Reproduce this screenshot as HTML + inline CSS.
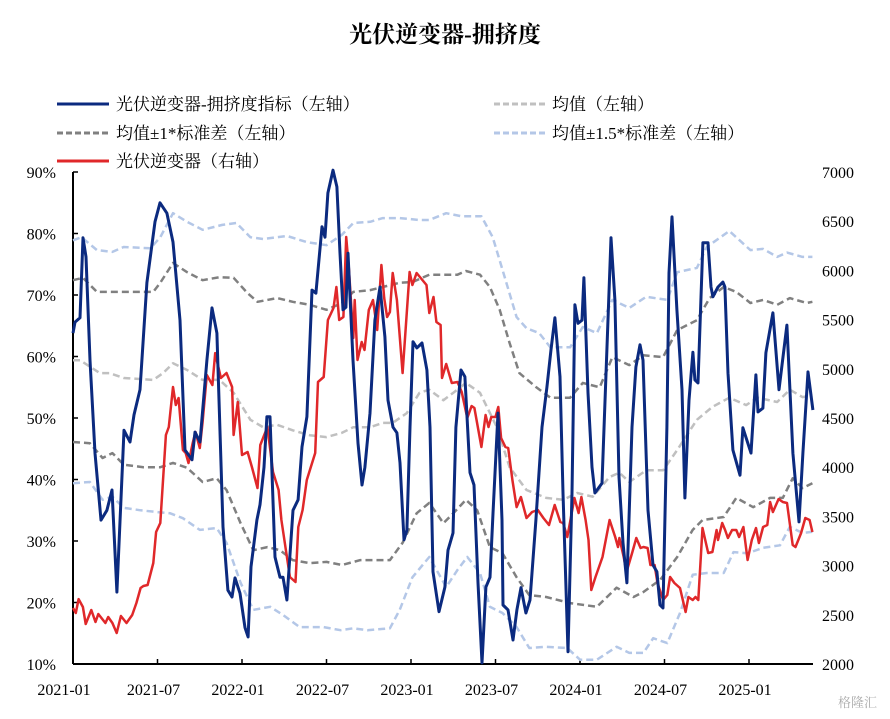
<!DOCTYPE html>
<html><head><meta charset="utf-8">
<style>
body{margin:0;background:#fff;width:890px;height:719px;overflow:hidden;}
svg{display:block;}
text{font-family:"Liberation Serif","Noto Serif CJK SC",serif;}
</style></head>
<body>
<svg id="chart" width="890" height="719">
<text x="445" y="42" text-anchor="middle" font-size="23" font-weight="bold" fill="#000">光伏逆变器-拥挤度</text>
<g font-size="17">
<g><line x1="57" y1="104" x2="109" y2="104" stroke="#0b2a7f" stroke-width="3"/><text x="116" y="110">光伏逆变器-拥挤度指标（左轴）</text></g>
<g><line x1="494" y1="104" x2="545" y2="104" stroke="#c0c0c0" stroke-width="3" stroke-dasharray="6,3"/><text x="552" y="110">均值（左轴）</text></g>
<g><line x1="57" y1="133" x2="109" y2="133" stroke="#808080" stroke-width="3" stroke-dasharray="6,3"/><text x="116" y="139">均值±1*标准差（左轴）</text></g>
<g><line x1="494" y1="133" x2="545" y2="133" stroke="#b4c7e7" stroke-width="3" stroke-dasharray="6,3"/><text x="552" y="139">均值±1.5*标准差（左轴）</text></g>
<g><line x1="57" y1="161" x2="109" y2="161" stroke="#e0282a" stroke-width="3"/><text x="116" y="167">光伏逆变器（右轴）</text></g>
</g>
<g id="plot"></g>
<text x="838" y="707" font-size="13" fill="#aaa" font-family="Liberation Sans, Noto Sans CJK SC, sans-serif">格隆汇</text>
</svg>
<script>
const leftTicks=[10,20,30,40,50,60,70,80,90];
const rightTicks=[2000,2500,3000,3500,4000,4500,5000,5500,6000,6500,7000];
const xTickLabels=["2021-01","2021-07","2022-01","2022-07","2023-01","2023-07","2024-01","2024-07","2025-01"];
const xTickMonths=[0,6,12,18,24,30,36,42,48];

const blueT=[0,0.14,0.5,0.71,0.92,1.21,1.56,1.99,2.41,2.77,3.12,3.62,4.05,4.33,4.76,5.25,5.82,6.18,6.67,7.1,7.6,7.95,8.45,8.66,9.02,9.51,9.87,10.22,10.65,11.0,11.29,11.5,11.86,12.21,12.43,12.64,13.06,13.28,13.56,13.77,13.99,14.34,14.7,14.91,15.19,15.62,15.98,16.26,16.61,16.97,17.25,17.68,17.89,18.1,18.46,18.74,18.96,19.17,19.38,19.53,19.88,20.24,20.52,20.73,21.09,21.44,21.8,22.15,22.37,22.72,23.0,23.22,23.5,23.71,23.93,24.14,24.42,24.78,25.13,25.35,25.56,25.99,26.41,26.63,26.98,27.19,27.55,27.83,28.19,28.47,28.76,29.04,29.32,29.61,29.82,30.18,30.46,30.53,30.89,31.24,31.52,31.81,32.16,32.45,32.87,33.3,33.65,33.94,34.22,34.58,34.79,35.15,35.43,35.64,35.86,36.14,36.28,36.57,36.85,37.06,37.56,37.84,38.2,38.48,38.77,39.05,39.33,39.69,39.97,40.26,40.47,40.83,41.18,41.46,41.68,41.89,42.17,42.32,42.53,42.88,43.24,43.45,43.74,44.02,44.16,44.38,44.73,45.09,45.3,45.44,45.8,46.15,46.29,46.51,46.86,47.36,47.57,48.14,48.49,48.64,48.99,49.2,49.7,50.13,50.69,51.12,51.55,51.83,52.19,52.54];
const blueV=[63.8,65.6,66.3,79.3,76.2,59.4,44.3,33.4,35.0,38.3,21.7,48.0,46.1,50.5,54.6,72.0,81.9,85.0,83.3,78.6,65.9,44.8,43.2,47.7,46.1,59.4,67.9,63.8,32.3,22.0,20.9,24.0,21.5,15.9,14.4,25.8,33.4,35.9,42.0,50.2,50.2,27.4,24.1,24.1,20.4,35.0,36.7,45.3,50.2,70.8,70.3,81.1,79.4,86.6,90.3,87.6,76.8,67.6,68.0,76.8,59.4,45.9,39.1,42.0,50.8,65.9,71.3,63.2,52.9,48.5,47.6,42.7,30.2,31.8,48.5,62.4,61.4,62.2,57.8,48.5,25.0,18.5,22.5,28.5,31.3,48.5,57.8,56.7,41.1,39.1,23.2,10.2,22.5,24.1,34.5,50.8,33.4,19.6,18.8,13.9,18.8,22.4,18.3,20.4,33.4,48.5,55.0,61.1,66.3,56.7,37.8,12.0,37.8,68.4,65.4,65.9,72.8,54.1,42.0,37.8,39.4,56.7,79.3,69.2,40.4,29.7,23.2,48.5,58.3,61.9,59.4,35.0,26.1,25.0,19.6,19.1,48.5,73.6,82.7,67.6,54.6,37.0,52.9,60.7,56.2,55.7,78.5,78.5,71.3,69.7,71.3,72.1,71.3,57.3,44.8,40.7,48.4,44.3,57.0,51.0,51.6,60.6,67.1,54.6,65.1,44.3,33.1,44.3,57.5,51.3];

const redT=[0,.2,.4,.7,.9,1.3,1.6,1.8,2.3,2.5,2.8,3.1,3.4,3.8,4.2,4.5,4.8,5.0,5.3,5.7,5.9,6.2,6.6,6.8,7.1,7.3,7.5,7.8,8.0,8.2,8.5,8.7,9.0,9.2,9.5,9.9,10.1,10.5,10.9,11.3,11.4,11.7,12.0,12.4,12.7,13.1,13.3,13.8,14.2,14.6,14.8,15.4,15.8,16.0,16.3,16.6,17.2,17.4,17.8,18.1,18.5,18.7,18.9,19.2,19.4,19.6,19.9,20.0,20.2,20.5,20.7,21.0,21.3,21.6,21.9,22.1,22.3,22.5,22.7,23.0,23.4,23.9,24.1,24.4,25.1,25.3,25.6,25.8,26.1,26.2,26.5,26.9,27.3,27.6,28.0,28.3,28.5,29.0,29.3,29.5,29.7,30.0,30.2,30.4,30.7,30.9,31.2,31.5,31.8,32.2,32.6,33.0,33.4,33.8,34.2,34.6,34.8,35.1,35.3,35.6,35.9,36.1,36.4,36.6,36.8,37.1,37.6,38.1,38.5,38.7,38.8,39.1,39.3,39.7,40.0,40.3,40.5,40.8,41.0,41.3,41.5,41.9,42.2,42.4,42.7,43.1,43.5,43.7,44.0,44.2,44.4,44.7,45.1,45.4,45.7,45.8,46.1,46.3,46.5,46.8,47.1,47.3,47.6,47.9,48.2,48.5,48.7,49.0,49.3,49.5,49.7,50.1,50.4,50.7,51.1,51.3,51.7,52.0,52.3,52.5];
const redV=[2569,2518,2660,2579,2406,2549,2427,2508,2417,2478,2417,2315,2488,2417,2498,2620,2772,2793,2803,3026,3341,3433,4327,4409,4815,4632,4703,4175,4144,4043,4246,4358,4195,4459,4937,4835,5160,4906,4957,4815,4327,4663,4124,4154,4002,3789,4226,4409,3951,3768,3463,2884,2833,3392,3565,3870,4144,4866,4917,5496,5618,5831,5496,5526,6339,6004,5313,5699,5089,5272,5191,5598,5699,5394,6055,5719,5526,5577,5974,5699,4957,5984,5852,5974,5852,5567,5730,5476,5445,4906,5049,4856,4866,4764,4500,4622,4602,4205,4530,4409,4510,4510,4612,4297,4205,4195,3870,3595,3697,3484,3545,3565,3484,3413,3616,3443,3433,3291,3443,3687,3535,3697,3463,3260,2752,2884,3087,3463,3291,3189,3280,3087,2935,3128,3280,3179,3189,3179,3006,3006,2823,2650,2701,2884,2823,2772,2528,2681,2650,2681,2650,3382,3128,3138,3362,3260,3433,3362,3280,3362,3362,3291,3392,3057,3260,3382,3230,3392,3413,3646,3545,3677,3646,3636,3209,3189,3331,3484,3463,3341];

const meanT=[0,.5,1.9,2.6,3.6,5.7,6.4,7.1,8.1,9.2,10.4,11.4,12.6,13.5,14.5,15.6,16.8,18.0,19.1,19.9,21.1,22.0,22.7,23.7,24.6,25.3,26.3,27.0,27.9,28.9,30.1,31.0,32.2,33.6,34.8,35.8,36.9,38.1,38.8,39.5,40.7,41.9,42.9,44.3,45.4,46.6,47.8,48.6,50.0,50.9,51.8,52.5];
const meanV=[59.4,59.4,57.3,57.3,56.5,56.2,57.3,58.9,57.8,56.2,56.2,54.1,49.7,48.5,48.9,48.0,47.2,46.9,47.6,48.5,48.5,49.2,49.2,50.8,54.1,54.6,52.9,54.1,55.7,54.1,48.5,42.0,38.3,37.0,36.7,37.8,37.2,40.4,41.1,39.6,41.5,41.5,44.8,49.7,51.8,53.3,52.1,53.3,52.6,54.6,53.4,53.7];

const up1T=[0,.7,1.7,2.8,5.7,6.2,7.1,8.1,9.2,10.4,11.4,12.4,13.1,14.5,15.6,16.8,18.0,19.1,19.9,21.1,22.0,23.2,24.1,25.3,27.3,27.9,28.9,29.6,30.3,31.0,31.7,32.9,33.9,35.3,36.2,37.4,38.3,39.5,40.5,41.9,42.9,44.3,45.2,46.2,47.1,48.1,49.0,50.0,50.9,52.1,52.5];
const up1V=[72.4,72.8,70.5,70.5,70.5,72.0,75.2,73.7,72.4,72.9,72.8,70.3,68.9,69.5,68.9,68.4,67.6,68.7,70.5,70.8,71.3,72.0,72.1,73.3,73.3,73.9,73.3,71.3,67.6,62.2,57.3,55.0,53.3,53.3,55.7,55.0,59.9,58.6,60.2,59.9,64.3,65.9,69.5,71.3,70.5,68.7,69.2,68.4,69.5,68.7,68.9];

const lo1T=[0,1.2,2.1,2.8,3.6,5.0,6.2,7.1,8.1,9.2,10.2,10.9,11.9,12.8,13.8,14.7,15.6,16.8,18.0,19.1,20.4,22.5,23.4,24.4,25.3,26.3,27.0,27.9,28.7,29.6,30.5,31.5,32.4,33.6,35.3,37.2,38.6,39.8,40.5,41.7,42.9,44.0,44.7,46.2,47.1,48.3,49.5,50.4,51.1,51.8,52.5];
const lo1V=[46.1,45.9,43.5,44.3,42.4,42.0,42.0,42.7,41.9,39.6,40.2,38.3,32.9,28.5,29.0,28.5,26.9,26.4,26.6,26.1,26.9,26.9,29.7,34.5,36.2,32.9,34.5,36.7,35.0,29.0,28.0,24.1,21.2,20.9,19.9,19.3,22.4,20.9,21.7,23.7,27.4,31.8,33.4,33.9,37.0,35.5,37.0,37.0,40.2,38.6,39.4];

const up15T=[0,.6,1.7,2.8,3.6,5.5,6.2,7.1,8.1,9.2,10.6,11.6,12.6,13.5,15.2,16.6,18.0,19.1,19.9,21.1,22.0,23.2,24.6,25.3,26.5,27.6,29.0,29.8,30.5,31.5,32.2,33.1,33.9,35.3,36.2,37.2,38.3,39.5,40.7,42.2,42.9,44.3,45.0,46.6,48.1,49.0,50.0,50.7,51.8,52.5];
const up15V=[78.9,79.4,77.3,77.0,77.8,77.6,79.4,83.3,81.9,80.6,81.4,81.7,79.4,79.1,79.6,78.6,78.1,79.8,81.7,81.9,82.5,82.5,82.2,82.2,83.3,82.8,82.8,79.4,74.1,66.4,64.6,63.8,61.5,61.5,64.8,63.8,69.2,67.9,69.7,69.2,73.7,74.4,77.8,80.4,77.3,77.5,76.2,76.9,76.2,76.2];

const lo15T=[0,1.2,2.1,2.8,3.6,4.8,6.0,6.9,7.8,9.0,10.2,10.9,11.9,12.8,14.0,14.9,16.1,17.8,19.0,19.9,20.9,22.5,23.2,24.1,25.3,26.5,27.3,28.0,28.9,29.6,30.5,31.5,32.4,33.6,35.1,36.0,37.2,38.6,39.5,40.5,41.2,42.2,43.1,44.0,45.0,46.2,46.9,47.9,49.0,50.2,50.9,51.8,52.5];
const lo15V=[39.4,39.6,36.7,37.2,35.4,35.0,34.7,34.5,33.7,31.8,32.1,29.7,23.2,18.8,19.3,18.0,16.0,16.0,15.5,15.8,15.5,15.8,18.8,24.1,27.4,22.5,25.3,27.4,24.8,19.3,18.3,16.0,12.6,12.8,12.6,10.7,10.7,12.8,11.8,11.8,14.2,13.4,18.3,24.5,24.8,24.8,28.2,28.0,28.9,29.3,32.3,31.3,31.5];

const X0=73, X1=813, Y0=664, Y1=172;
const MPX=676/48;
function xScale(m){return X0+m*MPX;}
function yLeft(v){return Y0-(v-10)/80*(Y0-Y1);}
function yRight(v){return Y0-(v-2000)/5000*(Y0-Y1);}
const NS="http://www.w3.org/2000/svg";
const plot=document.getElementById('plot');
function mk(tag,attrs){const e=document.createElementNS(NS,tag);for(const k in attrs)e.setAttribute(k,attrs[k]);return e;}

// axes
const axL=mk('line',{x1:X0,y1:Y1,x2:X0,y2:Y0,stroke:'#000','stroke-width':2});


plot.appendChild(axL);
const axB=mk('line',{x1:X0,y1:Y0,x2:X1,y2:Y0,stroke:'#000','stroke-width':2});


plot.appendChild(axB);

leftTicks.forEach(v=>{
  const y=yLeft(v);
  const t=mk('line',{x1:X0,y1:y,x2:X0+5,y2:y,stroke:'#000','stroke-width':1.5});
  
  
  plot.appendChild(t);
  const l=mk('text',{x:56,y:y+6,'text-anchor':'end','font-size':16});
  l.textContent=v+'%';
  
  
  plot.appendChild(l);
});
rightTicks.forEach(v=>{
  const y=yRight(v);
  const l=mk('text',{x:822,y:y+6,'font-size':16});
  l.textContent=v;
  
  
  plot.appendChild(l);
});
xTickMonths.forEach((m,i)=>{
  const x=xScale(m);
  const t=mk('line',{x1:x,y1:Y0,x2:x,y2:Y0-5,stroke:'#000','stroke-width':1.5});
  
  
  plot.appendChild(t);
  const l=mk('text',{x:i===0?64:x-4,y:695,'text-anchor':'middle','font-size':16});
  l.textContent=xTickLabels[i];
  
  
  plot.appendChild(l);
});

function series(T,V,yf,color,w,dash,name){
  const n=Math.min(T.length,V.length);
  let d='';
  for(let i=0;i<n;i++){d+=(i?'L':'M')+xScale(T[i]).toFixed(1)+','+yf(V[i]).toFixed(1);}
  const p=mk('path',{d:d,fill:'none',stroke:color,'stroke-width':w,'stroke-linejoin':'round'});
  if(dash)p.setAttribute('stroke-dasharray',dash);
  
  
  plot.appendChild(p);
}
series(up15T,up15V,yLeft,'#b4c7e7',2.5,'7,4','upper-1-5sd-line');
series(lo15T,lo15V,yLeft,'#b4c7e7',2.5,'7,4','lower-1-5sd-line');
series(meanT,meanV,yLeft,'#c0c0c0',2.5,'7,4','mean-line');
series(up1T,up1V,yLeft,'#808080',2.5,'7,4','upper-1sd-line');
series(lo1T,lo1V,yLeft,'#808080',2.5,'7,4','lower-1sd-line');
series(redT,redV,yRight,'#e0282a',2.5,null,'inverter-index-line');
series(blueT,blueV,yLeft,'#0b2a7f',3,null,'crowding-line');
</script>
</body></html>
